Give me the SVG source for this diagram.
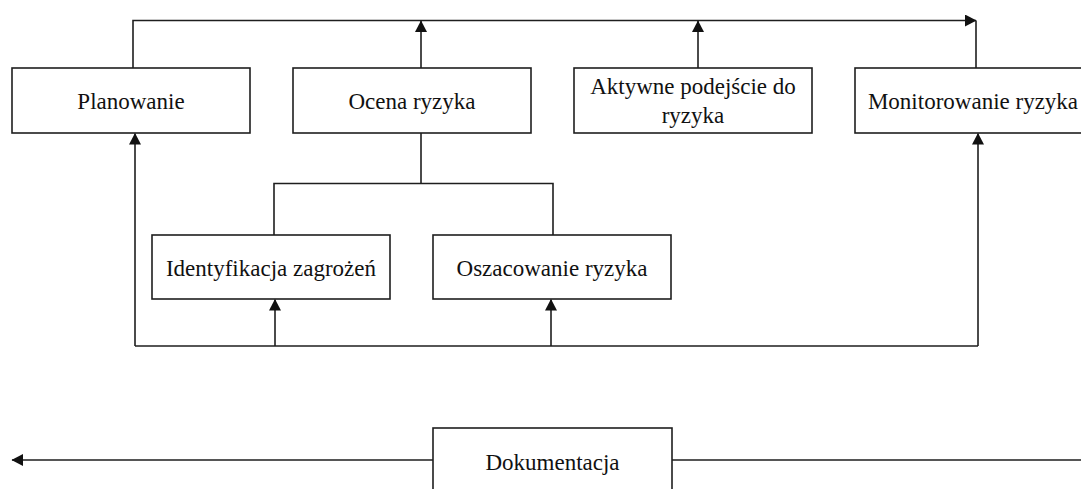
<svg xmlns="http://www.w3.org/2000/svg" width="1081" height="489" viewBox="0 0 1081 489">
  <style>
    .box { fill: #ffffff; stroke: #1e1e1e; stroke-width: 1.6; }
    .lbl { font-family: "Liberation Serif", "Times New Roman", serif; font-size: 23px; fill: #111111; text-anchor: middle; }
    .ln { fill: none; stroke: #1e1e1e; stroke-width: 1.6; }
    .arr { fill: none; stroke: #1e1e1e; stroke-width: 1.6; marker-end: url(#head); }
  </style>
  <defs>
    <marker id="head" markerUnits="userSpaceOnUse" markerWidth="12" markerHeight="12" viewBox="0 0 12 12" refX="11" refY="6" orient="auto">
      <path d="M0,0 L11.5,6 L0,12 Z" fill="#111111"/>
    </marker>
  </defs>
  <rect width="1081" height="489" fill="#ffffff"/>

  <!-- connectors -->
  <g id="connectors">
    <!-- feedback loop along the top -->
    <path class="arr" d="M133,68 V20.5 H976"/>
    <path class="ln" d="M976,20.5 V68"/>
    <path class="arr" d="M421,68 V21"/>
    <path class="arr" d="M698,68 V21"/>
    <!-- risk assessment split -->
    <path class="ln" d="M421,133 V183.5"/>
    <path class="ln" d="M274,235 V183.5 H553 V235"/>
    <!-- bottom distribution line -->
    <path class="ln" d="M135,346 H978"/>
    <path class="arr" d="M135,346 V133.5"/>
    <path class="arr" d="M978,346 V133.5"/>
    <path class="arr" d="M275,346 V299.5"/>
    <path class="arr" d="M551,346 V299.5"/>
    <!-- documentation -->
    <path class="arr" d="M433,460 H12"/>
    <path class="ln" d="M672,460 H1081"/>
  </g>

  <g id="planowanie">
    <rect class="box" x="12" y="68" width="238" height="65"/>
    <text class="lbl" x="131" y="109">Planowanie</text>
  </g>
  <g id="ocena-ryzyka">
    <rect class="box" x="293" y="68" width="238" height="65"/>
    <text class="lbl" x="412" y="109">Ocena ryzyka</text>
  </g>
  <g id="aktywne-podejscie">
    <rect class="box" x="574" y="68" width="238" height="65"/>
    <text class="lbl" x="693" y="94">Aktywne podejście do</text>
    <text class="lbl" x="693" y="123">ryzyka</text>
  </g>
  <g id="monitorowanie-ryzyka">
    <rect class="box" x="855" y="68" width="238" height="65"/>
    <text class="lbl" x="973" y="109">Monitorowanie ryzyka</text>
  </g>
  <g id="identyfikacja-zagrozen">
    <rect class="box" x="152" y="235" width="238" height="64"/>
    <text class="lbl" x="271" y="276">Identyfikacja zagrożeń</text>
  </g>
  <g id="oszacowanie-ryzyka">
    <rect class="box" x="433" y="235" width="238" height="64"/>
    <text class="lbl" x="552" y="276">Oszacowanie ryzyka</text>
  </g>
  <g id="dokumentacja">
    <rect class="box" x="433" y="428" width="239" height="80"/>
    <text class="lbl" x="552.5" y="470">Dokumentacja</text>
  </g>
</svg>
